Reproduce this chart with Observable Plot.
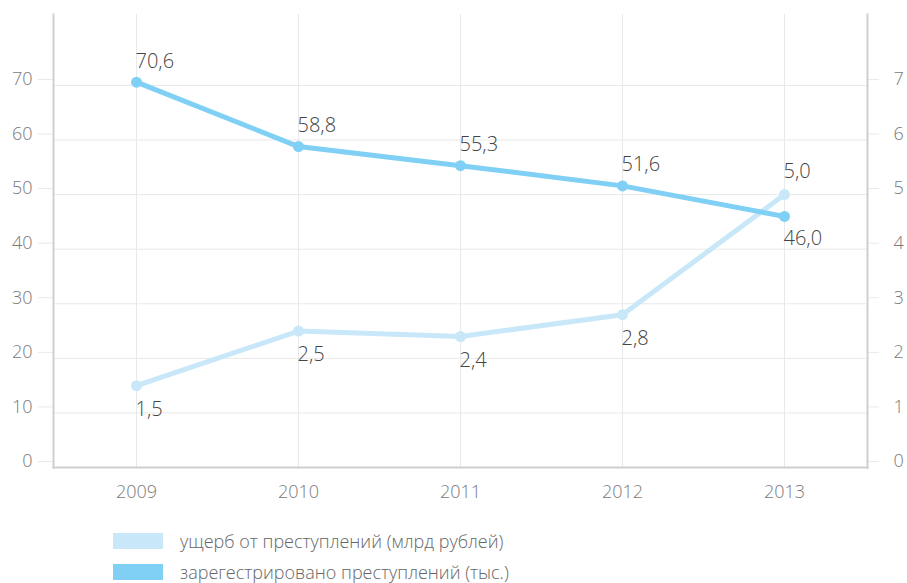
<!DOCTYPE html>
<html>
<head>
<meta charset="utf-8">
<script src="https://cdn.jsdelivr.net/npm/d3@7"></script>
<script src="https://cdn.jsdelivr.net/npm/@observablehq/plot@0.6"></script>
<style>
  body { margin: 0; background: #fff; font-family: "Open Sans", Roboto, sans-serif; font-weight: 300; }
  #chart { position: relative; width: 907px; height: 583px; }
  .legend { position: absolute; left: 113px; top: 533px; }
  .row { display: flex; align-items: center; height: 16px; margin-bottom: 15px; font-size: 18px; color: #666; }
  .sw { width: 50px; height: 16px; margin-right: 17px; }
</style>
</head>
<body>
<div id="chart"></div>
<script>
const years = ["2009", "2010", "2011", "2012", "2013"];
const crimes = [70.6, 58.8, 55.3, 51.6, 46.0];      // тыс.
const damage = [1.5, 2.5, 2.4, 2.8, 5.0];           // млрд рублей
const leftTicks = [0, 10, 20, 30, 40, 50, 60, 70];
const rightTicks = [0, 1, 2, 3, 4, 5, 6, 7];
const seriesNames = ["ущерб от преступлений (млрд рублей)", "зарегестрировано преступлений (тыс.)"];
const colors = ["#c8e8f9", "#7fd0f4"];

const fmt = v => v.toFixed(1).replace(".", ",");
const crimeData = years.map((y, i) => ({year: y, v: crimes[i], i}));
const damageData = years.map((y, i) => ({year: y, v: damage[i] * 10, raw: damage[i], i}));
const last = years.length - 1;
const font = "'Open Sans', Roboto, sans-serif";

const plot = Plot.plot({
  width: 907,
  height: 515,
  marginLeft: 53,
  marginRight: 40,
  marginTop: 14,
  marginBottom: 48,
  style: {fontFamily: font, fontWeight: 300, background: "#fff"},
  x: {type: "point", domain: years, padding: 0.5},
  y: {domain: [0, 83]},
  marks: [
    Plot.gridX(years, {stroke: "#e9e9e9", strokeOpacity: 1, strokeWidth: 1}),
    Plot.gridY(leftTicks.filter(d => d > 0), {stroke: "#e9e9e9", strokeOpacity: 1, strokeWidth: 1}),
    Plot.axisY(leftTicks, {anchor: "left", tickSize: 15, stroke: "#e9e9e9", strokeOpacity: 1, tickPadding: 6, dy: -6, fontSize: 18, fill: "#7a7a7a", label: null}),
    Plot.axisY(leftTicks, {anchor: "right", tickSize: 11, stroke: "#e9e9e9", strokeOpacity: 1, tickPadding: 15, dy: -6, fontSize: 18, fill: "#7a7a7a", tickFormat: d => String(rightTicks[d / 10]), label: null}),
    Plot.axisX(years, {anchor: "bottom", tickSize: 0, tickPadding: 18, fontSize: 18, fill: "#7a7a7a", label: null}),
    Plot.frame({anchor: "left", stroke: "#cfcfcf", strokeWidth: 2}),
    Plot.frame({anchor: "right", stroke: "#cfcfcf", strokeWidth: 2}),
    Plot.frame({anchor: "bottom", stroke: "#cfcfcf", strokeWidth: 2}),
    Plot.line(damageData, {x: "year", y: "v", stroke: colors[0], strokeWidth: 5}),
    Plot.dot(damageData, {x: "year", y: "v", fill: colors[0], r: 5.5}),
    Plot.line(crimeData, {x: "year", y: "v", stroke: colors[1], strokeWidth: 5}),
    Plot.dot(crimeData, {x: "year", y: "v", fill: colors[1], r: 5.5}),
    Plot.text(crimeData.filter(d => d.i !== last), {x: "year", y: "v", text: d => fmt(d.v), textAnchor: "start", dx: -1, dy: -21, fontSize: 20, fill: "#444"}),
    Plot.text(crimeData.filter(d => d.i === last), {x: "year", y: "v", text: d => fmt(d.v), textAnchor: "start", dx: -1, dy: 22, fontSize: 20, fill: "#444"}),
    Plot.text(damageData.filter(d => d.i !== last), {x: "year", y: "v", text: d => fmt(d.raw), textAnchor: "start", dx: -1, dy: 24, fontSize: 20, fill: "#444"}),
    Plot.text(damageData.filter(d => d.i === last), {x: "year", y: "v", text: d => fmt(d.raw), textAnchor: "start", dx: -1, dy: -23, fontSize: 20, fill: "#444"})
  ]
});

const chart = document.getElementById("chart");
chart.appendChild(plot);
const legend = document.createElement("div");
legend.className = "legend";
seriesNames.forEach((name, i) => {
  const row = document.createElement("div");
  row.className = "row";
  const sw = document.createElement("div");
  sw.className = "sw";
  sw.style.background = colors[i];
  const t = document.createElement("span");
  t.textContent = name;
  row.appendChild(sw);
  row.appendChild(t);
  legend.appendChild(row);
});
chart.appendChild(legend);
</script>
</body>
</html>
